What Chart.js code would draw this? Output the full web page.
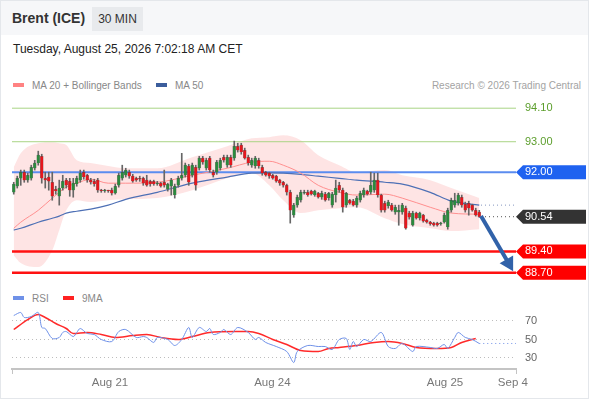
<!DOCTYPE html>
<html>
<head>
<meta charset="utf-8">
<title>Brent (ICE) 30 MIN</title>
<script src="https://cdn.jsdelivr.net/npm/chart.js@4.4.1/dist/chart.umd.min.js"></script>
<style>
  body { margin:0; width:590px; height:400px; overflow:hidden; background:#fff; font-family:Arial, "Liberation Sans", sans-serif; }
  #frame { position:absolute; left:0; top:0; width:589px; height:399px; border:1px solid #e4e7eb; box-sizing:border-box; }
  #head { position:absolute; left:1px; top:1px; width:587px; height:34px; background:#f6f7f9; }
  #title { position:absolute; left:12px; top:10px; font-size:14px; font-weight:bold; color:#333; }
  #badge { position:absolute; left:92px; top:7px; width:51px; height:24px; line-height:24px; text-align:center; background:#e8eaed; font-size:12px; color:#333; }
  #stamp { position:absolute; left:13px; top:42px; font-size:12px; color:#222; }
  .leg { position:absolute; font-size:10px; color:#888; white-space:nowrap; }
  .sw { display:inline-block; width:11px; height:4px; vertical-align:middle; margin-right:8px; position:relative; top:-1px; }
  #credit { position:absolute; right:9px; top:80px; font-size:10px; color:#a3a3a3; }
  canvas { position:absolute; left:0; }
  #priceChart { top:96px; }
  #rsiChart { top:305px; }
</style>
</head>
<body>
<div id="frame"></div>
<div id="head"></div>
<div id="title">Brent (ICE)</div>
<div id="badge">30 MIN</div>
<div id="stamp">Tuesday, August 25, 2026 7:02:18 AM CET</div>
<div class="leg" style="left:13px; top:80px;"><span class="sw" style="background:#ff8282;"></span>MA 20 + Bollinger Bands</div>
<div class="leg" style="left:156px; top:80px;"><span class="sw" style="background:#3b5d9c;"></span>MA 50</div>
<div id="credit">Research © 2026 Trading Central</div>
<div class="leg" style="left:13px; top:293px;"><span class="sw" style="background:#6f91e8;"></span>RSI</div>
<div class="leg" style="left:63px; top:293px;"><span class="sw" style="background:#f22;"></span>9MA</div>
<canvas id="priceChart" width="590" height="189"></canvas>
<canvas id="rsiChart" width="590" height="93"></canvas>
<script>
// 30 min candles, oldest first
const candleOpen = [
  91.34,91.54,91.80,92.00,91.74,91.80,92.13,92.30,92.52,91.80,
  91.84,91.67,91.44,91.21,91.48,91.74,91.70,91.41,91.61,91.74,
  92.00,91.90,91.74,91.70,91.74,91.41,91.38,91.41,91.41,91.31,
  91.57,91.80,91.90,92.00,91.87,91.80,91.80,91.80,91.74,91.70,
  91.70,91.61,91.64,91.67,91.44,91.54,91.25,91.57,91.80,91.90,
  92.20,91.90,92.16,92.13,92.46,92.13,92.46,92.00,92.00,92.13,
  92.49,92.23,92.49,92.46,92.85,92.89,92.72,92.49,92.23,92.20,
  92.39,92.16,92.00,91.97,91.90,91.87,91.74,91.67,91.57,91.34,
  90.59,90.92,91.08,91.31,91.34,91.38,91.25,91.31,91.18,91.28,
  91.15,90.92,91.25,91.57,91.41,90.92,91.08,91.05,90.92,91.08,
  91.25,91.38,91.34,91.41,91.74,91.25,90.98,90.89,90.92,90.69,
  90.69,90.69,90.82,90.66,90.26,90.66,90.49,90.59,90.43,90.36,
  90.33,90.33,90.30,90.36,90.20,90.75,90.92,90.98,91.18,90.95,
  90.98,90.92,90.75,90.69
];
const candleHigh = [
  91.67,91.87,92.07,92.07,91.97,92.23,92.39,92.69,92.59,92.00,
  92.00,92.00,91.54,91.74,91.90,91.80,91.80,91.80,91.87,92.07,
  92.07,91.93,91.80,91.77,91.80,91.44,91.44,91.41,91.48,91.61,
  91.97,92.23,92.13,92.07,91.93,91.84,91.87,91.84,91.90,91.74,
  91.74,91.70,91.67,92.07,91.64,91.80,91.61,91.87,92.62,92.30,
  92.26,92.30,92.23,92.52,92.52,92.46,92.52,92.07,92.39,92.46,
  92.56,92.56,92.56,93.02,92.95,92.95,92.79,92.56,92.46,92.52,
  92.46,92.23,92.03,92.00,91.93,91.90,91.77,91.70,91.61,91.41,
  90.98,91.25,91.41,91.41,91.41,91.41,91.41,91.34,91.38,91.34,
  91.34,91.34,91.74,91.67,91.48,91.34,91.11,91.11,91.21,91.38,
  91.48,91.41,92.00,91.97,91.97,91.28,91.05,91.08,90.98,90.92,
  90.92,90.98,90.89,90.72,90.72,90.69,90.69,90.62,90.46,90.39,
  90.36,90.36,90.36,90.66,90.82,91.15,91.31,91.31,91.25,91.02,
  91.05,90.95,90.82,90.75
];
const candleLow = [
  91.28,91.48,91.57,91.67,91.67,91.74,92.07,92.23,91.64,91.48,
  91.41,91.08,91.28,90.92,91.41,91.48,91.21,91.18,91.54,91.67,
  91.77,91.67,91.61,91.54,91.34,91.34,91.34,91.34,91.25,91.28,
  91.51,91.74,91.84,91.80,91.67,91.70,91.70,91.57,91.54,91.54,
  91.57,91.57,91.51,91.51,91.38,91.25,91.15,91.51,91.74,91.84,
  91.57,91.84,91.41,92.07,92.26,92.07,92.00,91.84,91.93,92.07,
  92.33,92.16,92.16,92.39,92.66,92.59,92.43,92.23,92.16,92.13,
  92.13,91.90,91.87,91.80,91.77,91.67,91.57,91.51,91.25,90.33,
  90.52,90.85,91.02,91.28,91.21,91.25,91.21,91.15,91.11,91.05,
  91.08,90.85,91.02,91.34,90.69,90.85,90.95,90.89,90.85,91.02,
  91.18,91.25,91.28,91.34,91.18,90.69,90.69,90.82,90.72,90.62,
  90.26,90.62,90.13,90.46,90.23,90.46,90.43,90.36,90.33,90.26,
  90.23,90.23,90.26,90.33,90.13,90.69,90.85,90.92,90.85,90.69,
  90.59,90.72,90.56,90.52
];
const candleClose = [
  91.61,91.80,92.00,91.74,91.90,92.16,92.30,92.56,91.80,91.74,
  91.70,91.21,91.38,91.48,91.70,91.57,91.41,91.64,91.80,91.97,
  91.84,91.74,91.67,91.61,91.41,91.38,91.41,91.38,91.31,91.54,
  91.90,92.00,92.07,91.87,91.70,91.74,91.77,91.64,91.57,91.61,
  91.61,91.64,91.54,91.57,91.61,91.74,91.54,91.80,91.90,92.23,
  91.67,92.23,91.57,92.46,92.33,92.39,92.07,91.90,92.33,92.39,
  92.39,92.49,92.23,92.85,92.72,92.66,92.46,92.30,92.39,92.46,
  92.20,91.97,91.90,91.87,91.80,91.70,91.64,91.57,91.34,90.75,
  90.92,91.18,91.34,91.34,91.25,91.28,91.38,91.18,91.31,91.08,
  91.31,91.28,91.48,91.41,90.85,91.31,90.98,90.92,91.15,91.31,
  91.41,91.28,91.57,91.74,91.25,90.75,90.75,91.02,90.75,90.85,
  90.75,90.92,90.16,90.52,90.66,90.49,90.66,90.39,90.36,90.30,
  90.26,90.26,90.33,90.59,90.75,91.08,91.08,91.25,90.92,90.75,
  90.82,90.75,90.59,90.54
];

// indicator readings, sampled at candle positions
const bandIdx = [0,2,7,11,13,15,18,22,27,32,41,51,61,68,73,77,82,87,93,98,106,111,119,125,133];
const bbUpper = [92.16,92.62,92.95,92.98,92.95,92.89,92.39,92.30,92.20,92.13,92.13,92.49,92.85,93.11,93.15,93.21,93.05,92.56,92.23,92.00,92.07,91.90,91.74,91.48,91.15];
const bbLower = [89.28,89.02,88.89,89.44,90.10,90.75,91.08,91.02,91.08,91.11,91.15,91.41,91.80,91.97,91.57,91.08,90.66,90.75,90.82,90.85,90.49,90.30,90.16,90.07,90.13];
const ma20 = [90.16,90.36,90.75,91.15,91.34,91.51,91.64,91.77,91.64,91.64,91.67,91.90,92.13,92.33,92.36,92.23,91.97,91.57,91.34,91.25,91.28,91.15,90.85,90.66,90.62];
const ma50 = [90.10,90.16,90.36,90.49,90.56,90.66,90.72,90.79,90.92,91.11,91.34,91.64,91.84,91.97,91.98,91.97,91.93,91.87,91.80,91.74,91.67,91.61,91.34,91.05,90.92];

const rsiIdx = [0,2,3,5,7,8,9,11,13,14,15,17,18,19,21,23,25,28,30,32,35,37,38,40,41,44,46,48,50,51,53,55,56,57,59,60,62,64,67,69,70,72,75,78,80,81,84,87,89,91,93,95,96,97,98,100,102,105,107,109,111,114,115,119,121,123,124,126,127,129,131,133];
const rsiVals = [75.9,79.2,73.8,74.9,79.2,63.0,61.9,51.1,52.2,57.6,58.6,53.2,57.6,61.9,56.5,55.4,50.0,47.8,58.6,60.8,52.2,53.2,52.2,46.8,52.2,50.0,43.5,50.0,63.0,52.2,63.0,58.6,61.9,55.4,57.6,60.8,55.4,63.0,57.6,50.0,52.2,46.8,42.4,37.0,25.1,37.0,43.5,42.4,42.4,39.2,50.0,51.1,39.2,47.8,42.4,50.0,47.8,57.6,42.4,40.3,45.7,37.0,42.4,41.4,40.3,44.6,40.3,52.2,57.6,52.2,50.0,45.7];
const ma9Idx = [0,4,7,9,12,15,17,21,25,29,34,38,42,47,51,56,63,67,70,74,78,82,87,90,93,98,103,107,111,115,121,125,128,132];
const ma9Vals = [60.8,71.6,77.0,73.8,67.3,61.9,56.5,57.6,55.4,52.2,54.3,55.4,52.2,50.0,53.2,57.6,58.6,58.6,56.5,50.0,44.6,38.1,37.0,40.3,41.4,43.5,46.8,47.8,45.7,41.4,40.3,41.4,46.8,51.1];

// key levels and projected path
const levelValues = [88.70, 89.40, 90.54, 92.00, 93.00, 94.10];
const arrowIdx = [133.5, 141.4];
const arrowPrice = [90.56, 89.01];

const dateTickIdx = [27.5, 73.9, 123.2, 142.6];
const dateTickLabels = ['Aug 21', 'Aug 24', 'Aug 25', 'Sep 4'];
const rsiTicks = [30, 50, 70];

const X_MIN = -0.5, X_MAX = 143.5;
const UP = '#2b8a3e', DOWN = '#e5161d', WICK = '#666';
const levelStyle = [
  { line:'#ff1111', width:2.5, box:'#ff0000', text:'#fff' },
  { line:'#ff1111', width:2.5, box:'#ff0000', text:'#fff' },
  { line:null,      width:0,   box:'#333333', text:'#fff' },
  { line:'#5b8cef', width:2,   box:'#1f62f0', text:'#fff' },
  { line:'#a9d484', width:1,   box:null,      text:'#5c9e2c' },
  { line:'#a9d484', width:1,   box:null,      text:'#5c9e2c' }
];

Chart.defaults.font.family = 'Arial, "Liberation Sans", sans-serif';

const pts = (xs, ys) => xs.map((x, k) => ({ x: x, y: ys[k] }));
const last = candleClose.length - 1;

const levelBoxes = {
  id: 'levelBoxes',
  beforeDraw(chart) {
    const { ctx, chartArea, scales } = chart;
    levelValues.forEach((v, k) => {
      const fill = levelStyle[k].box;
      if (!fill) return;
      const y = scales.y.getPixelForValue(v);
      const x0 = chartArea.right, x1 = x0 + 7, x2 = chart.width - 4, h = 7;
      ctx.save();
      ctx.fillStyle = fill;
      ctx.beginPath();
      ctx.moveTo(x0, y);
      ctx.lineTo(x1, y - h);
      ctx.lineTo(x2, y - h);
      ctx.lineTo(x2, y + h);
      ctx.lineTo(x1, y + h);
      ctx.closePath();
      ctx.fill();
      ctx.restore();
    });
  }
};

const levelSets = [];
levelValues.forEach((v, k) => {
  const st = levelStyle[k];
  if (!st.line) return;
  levelSets.push({ type:'line', data:[{x:X_MIN, y:v}, {x:X_MAX, y:v}], borderColor:st.line, borderWidth:st.width, pointRadius:0, order:8 });
});

const ctx = document.getElementById('priceChart').getContext('2d');
new Chart(ctx, {
  type: 'bar',
  data: {
    datasets: [
      { type:'line', data:pts(bandIdx, bbUpper), borderWidth:0, pointRadius:0, tension:0.4, cubicInterpolationMode:'monotone', fill:'+1', backgroundColor:'rgba(250,120,120,0.2)', order:10 },
      { type:'line', data:pts(bandIdx, bbLower), borderWidth:0, pointRadius:0, tension:0.4, cubicInterpolationMode:'monotone', fill:false, order:10 },
      ...levelSets,
      { type:'line', data:pts(bandIdx, ma20), borderColor:'#ff8f8f', borderWidth:1, pointRadius:0, cubicInterpolationMode:'monotone', order:5 },
      { type:'line', data:pts(bandIdx, ma50), borderColor:'#4e70b5', borderWidth:1.2, pointRadius:0, cubicInterpolationMode:'monotone', order:5 },
      { type:'line', data:[{x:last + 0.5, y:ma50[ma50.length - 1]}, {x:X_MAX, y:ma50[ma50.length - 1]}], borderColor:'#8496c0', borderWidth:1, borderDash:[1,3], pointRadius:0, order:5 },
      { type:'line', data:[{x:last + 0.5, y:candleClose[last]}, {x:X_MAX, y:candleClose[last]}], borderColor:'#555', borderWidth:1, borderDash:[1,3], pointRadius:0, order:5 },
      { data:candleOpen.map((o, i) => ({ x:i, y:[candleLow[i], candleHigh[i]] })), backgroundColor:WICK, barThickness:1, grouped:false, order:3 },
      { data:candleOpen.map((o, i) => ({ x:i, y:[o, candleClose[i]] })),
        backgroundColor:candleOpen.map((o, i) => candleClose[i] >= o ? UP : DOWN),
        borderColor:'rgba(40,40,40,0.5)', borderWidth:0.5, barThickness:3, minBarLength:1, grouped:false, order:2 },
      { type:'line', data:pts(arrowIdx, arrowPrice), borderColor:'#3162a9', backgroundColor:'#3162a9', borderWidth:4,
        pointRadius:[0, 9], pointStyle:'triangle', pointRotation:150, pointBorderWidth:0, clip:false, order:1 }
    ]
  },
  options: {
    responsive: false,
    animation: false,
    layout: { autoPadding:false, padding: { left:12, right:0, top:0, bottom:0 } },
    plugins: { legend: { display:false }, tooltip: { enabled:false } },
    scales: {
      x: { type:'linear', display:false, min:X_MIN, max:X_MAX, offset:false },
      y: {
        position:'right', min:88.3, max:94.5,
        grid: { display:false, drawTicks:false }, border: { display:false },
        afterBuildTicks: s => { s.ticks = levelValues.map(v => ({ value:v })); },
        afterFit: s => { s.width = 74; s.paddingTop = 0; s.paddingBottom = 0; },
        ticks: { padding:9, font:{ size:11 }, color: c => levelStyle[c.index].text, callback: v => Number(v).toFixed(2) }
      }
    }
  },
  plugins: [levelBoxes]
});

const ctxRsi = document.getElementById('rsiChart').getContext('2d');
new Chart(ctxRsi, {
  type: 'line',
  data: {
    datasets: [
      { data:pts(rsiIdx, rsiVals), borderColor:'#6f91e8', borderWidth:1, pointRadius:0, tension:0.3 },
      { data:[{x:rsiIdx[rsiIdx.length - 1], y:rsiVals[rsiVals.length - 1]}, {x:X_MAX, y:rsiVals[rsiVals.length - 1]}], borderColor:'#6f91e8', borderWidth:1, borderDash:[1,3], pointRadius:0 },
      { data:pts(ma9Idx, ma9Vals), borderColor:'#ff2a2a', borderWidth:1.5, pointRadius:0, cubicInterpolationMode:'monotone' }
    ]
  },
  options: {
    responsive: false,
    animation: false,
    layout: { autoPadding:false, padding: { left:12, right:0, top:0, bottom:0 } },
    plugins: { legend: { display:false }, tooltip: { enabled:false } },
    scales: {
      x: {
        type:'linear', min:X_MIN, max:X_MAX, offset:false,
        afterBuildTicks: s => { s.ticks = [X_MIN, ...dateTickIdx, X_MAX].map(v => ({ value:v })); },
        afterFit: s => { s.height = 29; s.paddingLeft = 0; s.paddingRight = 0; },
        grid: { drawOnChartArea:false, tickLength:5, tickColor: c => (c.tick && c.tick.label === '') ? '#c4c4c4' : 'rgba(0,0,0,0)' },
        border: { color:'#c4c4c4', width:2 },
        ticks: { autoSkip:false, maxRotation:0, padding:2, color:'#777', font:{ size:11.5 },
          callback: v => { const k = dateTickIdx.indexOf(v); return k >= 0 ? dateTickLabels[k] : ''; } }
      },
      y: {
        position:'right', min:18.1, max:87.3,
        afterBuildTicks: s => { s.ticks = rsiTicks.map(v => ({ value:v })); },
        afterFit: s => { s.width = 74; s.paddingTop = 0; s.paddingBottom = 0; },
        grid: { color:'#bdbdbd', drawTicks:false },
        border: { display:false, dash:[1,3] },
        ticks: { padding:9, color:'#666', font:{ size:11 } }
      }
    }
  }
});
</script>
</body>
</html>
